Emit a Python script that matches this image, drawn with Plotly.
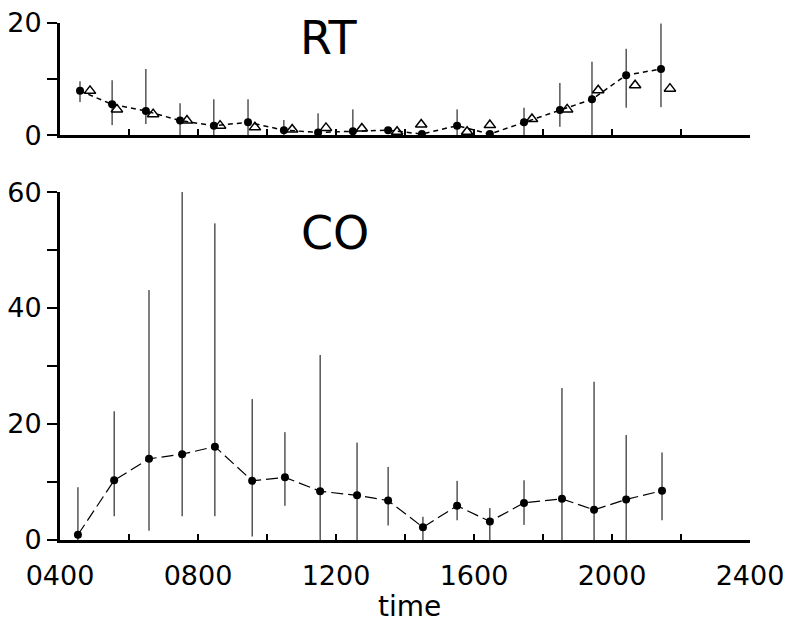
import plotly.graph_objects as go

# ---------------- data ----------------
# RT panel: filled circles (with error bars) and open triangles
rt_time = [458, 551, 649, 748, 846, 945, 1049, 1148, 1249, 1351, 1449, 1551, 1646, 1745, 1849, 1942, 2041, 2142]
rt_mean = [7.9, 5.5, 4.3, 2.6, 1.7, 2.3, 0.9, 0.5, 0.7, 0.9, 0.2, 1.7, 0.2, 2.3, 4.5, 6.4, 10.7, 11.8]
rt_high = [9.6, 9.8, 11.8, 5.7, 6.4, 6.4, 2.7, 3.9, 4.6, 0.9, 0.2, 4.6, 0.2, 4.9, 9.3, 13.1, 15.4, 19.9]
rt_low = [5.9, 1.8, 2.0, 0.0, 0.0, 0.0, 0.0, 0.0, 0.0, 0.9, 0.2, 0.0, 0.2, 0.0, 1.5, 0.0, 4.9, 5.0]

tri_time = [487, 565, 670, 768, 864, 965, 1073, 1171, 1275, 1377, 1447, 1580, 1646, 1768, 1870, 1960, 2067, 2168]
tri_val = [7.9, 4.6, 3.75, 2.6, 1.7, 1.4, 1.0, 1.3, 1.2, 0.6, 1.9, 0.6, 1.8, 2.9, 4.6, 8.0, 8.9, 8.3]

# CO panel
co_time = [452, 557, 658, 754, 849, 957, 1052, 1154, 1261, 1351, 1452, 1551, 1646, 1745, 1855, 1948, 2041, 2145]
co_mean = [0.9, 10.3, 14.0, 14.8, 16.1, 10.2, 10.8, 8.4, 7.7, 6.8, 2.2, 5.9, 3.2, 6.4, 7.1, 5.2, 7.0, 8.5]
co_high = [9.1, 22.2, 43.1, 60.0, 54.6, 24.3, 18.6, 31.9, 16.8, 12.6, 4.0, 10.2, 5.5, 10.3, 26.2, 27.3, 18.1, 15.1]
co_low = [0.0, 4.1, 1.6, 4.1, 4.1, 0.6, 5.9, 0.0, 0.0, 2.5, 0.0, 3.4, 0.0, 2.6, 0.0, 0.0, 0.0, 3.4]

x_tickvals = [400, 600, 800, 1000, 1200, 1400, 1600, 1800, 2000, 2200, 2400]
x_ticktext = ["0400", "", "0800", "", "1200", "", "1600", "", "2000", "", "2400"]
co_tickvals = [0, 10, 20, 30, 40, 50, 60]
co_ticktext = ["0", "", "20", "", "40", "", "60"]
rt_tickvals = [0, 10, 20]
rt_ticktext = ["0", "", "20"]

FONT = "DejaVu Sans"

fig = go.Figure()

# ---------- RT panel ----------
fig.add_trace(go.Scatter(
    x=rt_time, y=rt_mean, xaxis="x2", yaxis="y2", mode="lines+markers",
    line=dict(color="black", width=1.5, dash="5px,4px"),
    marker=dict(symbol="circle", size=8, color="black"),
    error_y=dict(type="data", symmetric=False,
                 array=[h - m for h, m in zip(rt_high, rt_mean)],
                 arrayminus=[m - l for m, l in zip(rt_mean, rt_low)],
                 color="black", thickness=1, width=0),
    cliponaxis=False, showlegend=False))
fig.add_trace(go.Scatter(
    x=tri_time, y=tri_val, xaxis="x2", yaxis="y2", mode="markers",
    marker=dict(symbol="triangle-up-open", size=10, color="black", line=dict(width=1.5)),
    cliponaxis=False, showlegend=False))

# ---------- CO panel ----------
fig.add_trace(go.Scatter(
    x=co_time, y=co_mean, xaxis="x", yaxis="y", mode="lines+markers",
    line=dict(color="black", width=1.2, dash="12px,5px"),
    marker=dict(symbol="circle", size=8, color="black"),
    error_y=dict(type="data", symmetric=False,
                 array=[h - m for h, m in zip(co_high, co_mean)],
                 arrayminus=[m - l for m, l in zip(co_mean, co_low)],
                 color="black", thickness=1, width=0),
    cliponaxis=False, showlegend=False))

xcommon = dict(range=[400, 2400], tickmode="array", tickvals=x_tickvals,
               ticks="inside", ticklen=6, tickwidth=2, tickcolor="black",
               showline=True, linecolor="black", linewidth=3,
               showgrid=False, zeroline=False, automargin=False,
               ticklabeloverflow="allow")

ycommon = dict(tickmode="array", ticks="outside", ticklen=10,
               tickwidth=2, tickcolor="black", showline=True, linecolor="black", linewidth=3,
               showgrid=False, zeroline=False, automargin=False, ticklabeloverflow="allow",
               tickfont=dict(family=FONT, size=27, color="black"))

fig.update_layout(
    width=787, height=623,
    margin=dict(l=60, r=37, t=23, b=83, autoexpand=False),
    paper_bgcolor="white", plot_bgcolor="white",
    font=dict(family=FONT, color="black"),
    hovermode=False,
    xaxis=dict(**xcommon, anchor="y", ticktext=x_ticktext, showticklabels=True,
               tickfont=dict(family=FONT, size=27, color="black"), ticklabelstandoff=10),
    xaxis2=dict(**xcommon, anchor="y2", ticktext=x_ticktext, showticklabels=False, matches="x"),
    yaxis=dict(**ycommon, domain=[0, 0.673], range=[0, 60], anchor="x",
               tickvals=co_tickvals, ticktext=co_ticktext),
    yaxis2=dict(**ycommon, domain=[0.783, 1], range=[0, 20], anchor="x2",
                tickvals=rt_tickvals, ticktext=rt_ticktext),
    annotations=[
        dict(text="RT", x=0.39, y=0.971, xref="paper", yref="paper", showarrow=False,
             xanchor="center", yanchor="middle", font=dict(family=FONT, size=46, color="black")),
        dict(text="CO", x=0.399, y=0.594, xref="paper", yref="paper", showarrow=False,
             xanchor="center", yanchor="middle", font=dict(family=FONT, size=46, color="black")),
        dict(text="time", x=0.507, y=-0.128, xref="paper", yref="paper", showarrow=False,
             xanchor="center", yanchor="middle", font=dict(family=FONT, size=28, color="black")),
    ],
)

# remove the browser's default 8px body margin so the figure fills the window
fig.write_html("out.html", config={"displayModeBar": False},
               post_script="document.body.style.margin='0';document.body.style.overflow='hidden';")
